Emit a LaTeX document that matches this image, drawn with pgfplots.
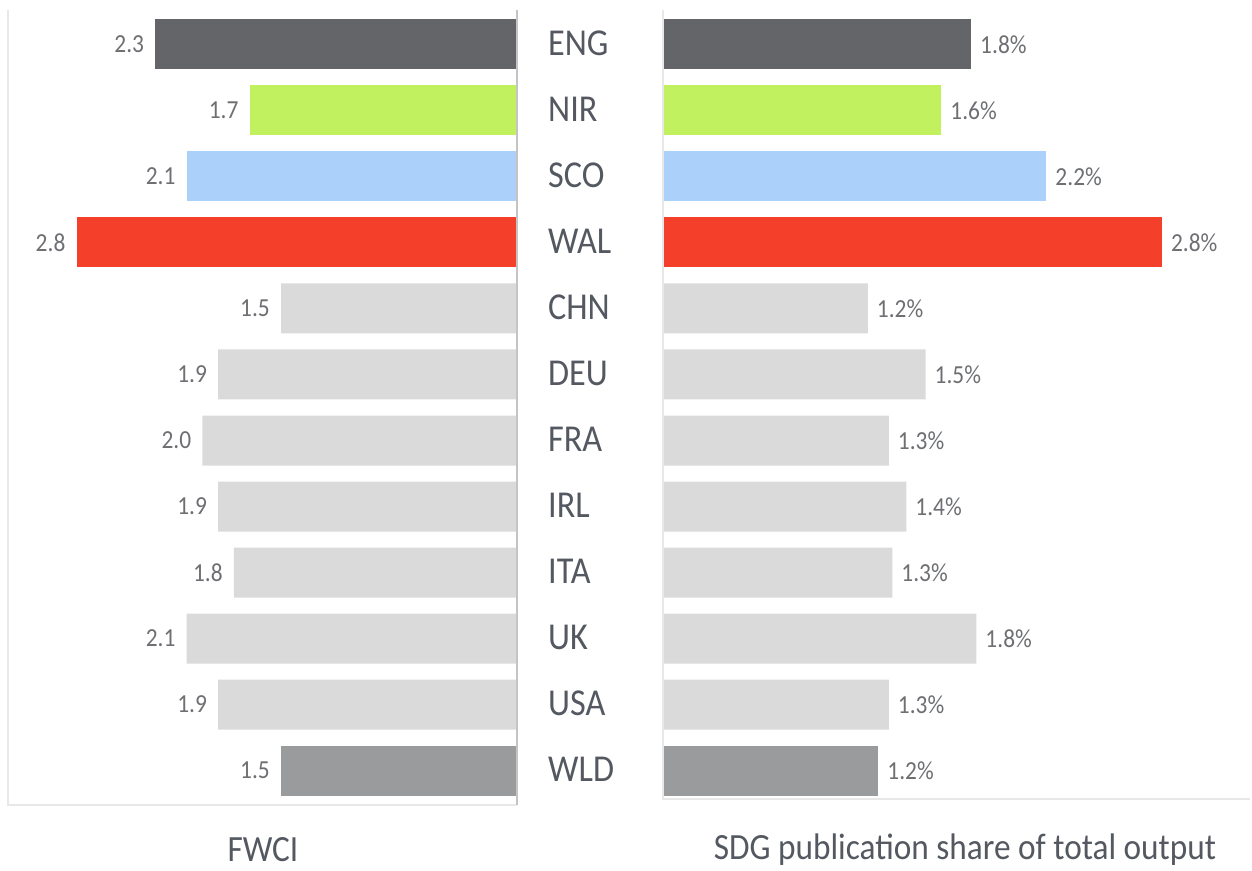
\documentclass[border=0pt]{standalone}
\usepackage{fontspec}
\setmainfont{Carlito}[FakeStretch=0.9]
\usepackage{pgfplots}
\pgfplotsset{compat=1.18}
\definecolor{cENG}{HTML}{636569}
\definecolor{cNIR}{HTML}{C2F15F}
\definecolor{cSCO}{HTML}{ABD1FB}
\definecolor{cWAL}{HTML}{F43F2B}
\definecolor{cGry}{HTML}{DADADA}
\definecolor{cWLD}{HTML}{9A9B9D}
\definecolor{cattext}{HTML}{545860}
\definecolor{valtext}{HTML}{6D6F72}
\definecolor{frame}{HTML}{E8E8E8}
\definecolor{zero}{HTML}{C4C4C4}
\pgfplotsset{
  common/.style={
    scale only axis, height=795pt,
    xbar, y dir=reverse, ymin=-0.52, ymax=11.52,
    xtick=\empty, axis lines*=left, axis line style={draw=none},
    major tick length=0pt, clip=false,
    nodes near coords, point meta=explicit symbolic,
    every axis plot/.append style={bar shift=0pt, bar width=50pt, draw=none},
  }
}
\begin{document}
\begin{tikzpicture}[x=1pt,y=1pt]
\useasboundingbox (0,0) rectangle (1252,870);
\begin{axis}[common, name=L, at={(8pt,65pt)}, anchor=south west,
  width=509pt, x dir=reverse, xmin=0, xmax=3.236, ytick=\empty,
  every node near coord/.append style={anchor=east, inner sep=0pt, xshift=-11pt,
    font=\fontsize{26}{26}\selectfont, text=valtext}]
\addplot[fill=cENG] coordinates {(2.3,0) [2.3]};
\addplot[fill=cNIR] coordinates {(1.7,1) [1.7]};
\addplot[fill=cSCO] coordinates {(2.1,2) [2.1]};
\addplot[fill=cWAL] coordinates {(2.8,3) [2.8]};
\addplot[fill=cGry] coordinates {(1.5,4) [1.5] (1.9,5) [1.9] (2.0,6) [2.0] (1.9,7) [1.9] (1.8,8) [1.8] (2.1,9) [2.1] (1.9,10) [1.9]};
\addplot[fill=cWLD] coordinates {(1.5,11) [1.5]};
\end{axis}
\begin{axis}[common, name=R, at={(663pt,65pt)}, anchor=south west,
  width=587pt, xmin=0, xmax=3.354,
  ytick={0,...,11},
  yticklabels={ENG,NIR,SCO,WAL,CHN,DEU,FRA,IRL,ITA,UK,USA,WLD},
  yticklabel style={anchor=west, inner sep=0pt, xshift=-115pt, yshift=1.5pt,
    font=\fontsize{38}{38}\selectfont, text=cattext},
  every node near coord/.append style={anchor=west, inner sep=0pt, xshift=9pt,
    font=\fontsize{26}{26}\selectfont, text=valtext}]
\addplot[fill=cENG] coordinates {(1.76,0) [1.8\%]};
\addplot[fill=cNIR] coordinates {(1.59,1) [1.6\%]};
\addplot[fill=cSCO] coordinates {(2.19,2) [2.2\%]};
\addplot[fill=cWAL] coordinates {(2.85,3) [2.8\%]};
\addplot[fill=cGry] coordinates {(1.17,4) [1.2\%] (1.50,5) [1.5\%] (1.29,6) [1.3\%] (1.39,7) [1.4\%] (1.31,8) [1.3\%] (1.79,9) [1.8\%] (1.29,10) [1.3\%]};
\addplot[fill=cWLD] coordinates {(1.23,11) [1.2\%]};
\end{axis}
\draw[frame, line width=1.5pt] (L.north west) -- (L.south west) -- (L.south east);
\draw[zero, line width=1.5pt] (L.south east) -- (L.north east);
\draw[frame, line width=1.5pt] (R.north west) -- ([yshift=6pt]R.south west) -- ([yshift=6pt]R.south east);
\node[font=\fontsize{37}{37}\selectfont, text=cattext] at (263,20) {FWCI};
\node[font=\fontsize{37}{37}\selectfont, text=cattext] at (965,20) {SDG publication share of total output};
\end{tikzpicture}
\end{document}
